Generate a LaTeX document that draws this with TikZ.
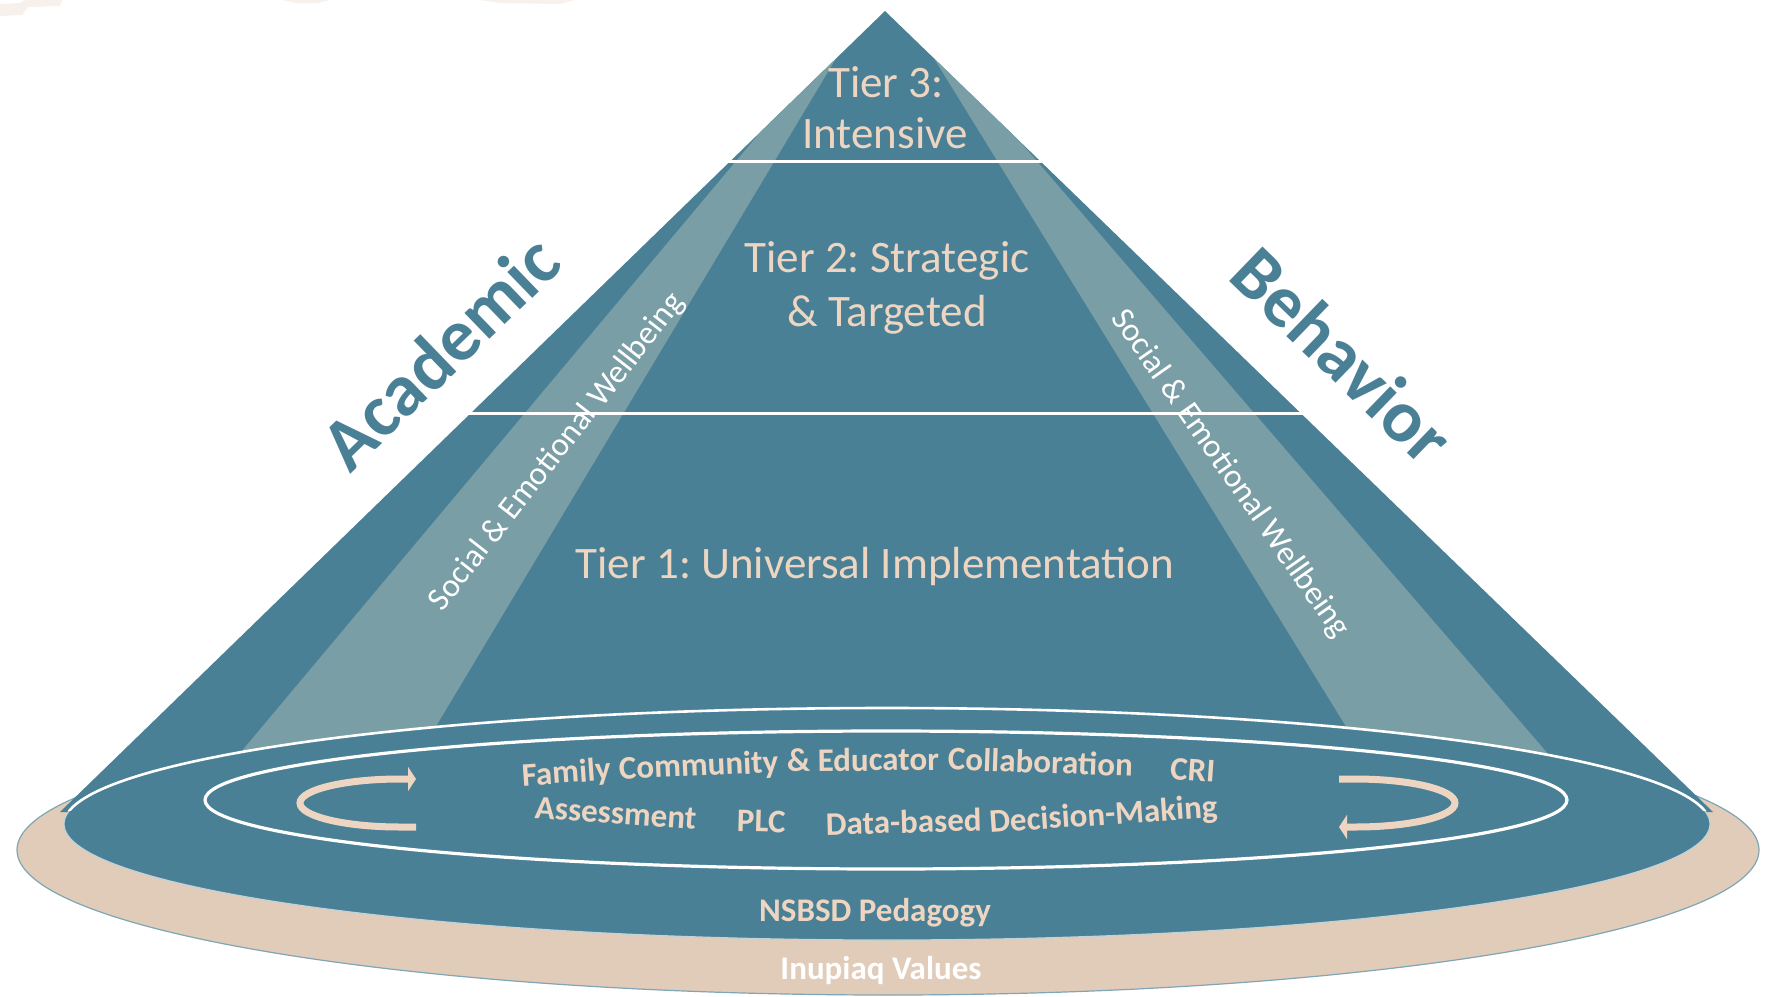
\documentclass[tikz,border=0pt]{standalone}
\usepackage{fontspec}
\setmainfont{Carlito}
\usetikzlibrary{arrows.meta}
\definecolor{coneblue}{HTML}{4A8096}
\definecolor{bandgrey}{HTML}{7A9EA5}
\definecolor{sand}{HTML}{E1CBB9}
\definecolor{sandtext}{HTML}{EDD5C1}
\definecolor{rimline}{HTML}{7FA6B5}
\definecolor{haze}{HTML}{F8F0EB}
\frenchspacing
\begin{document}
\begin{tikzpicture}[x=1pt,y=-1pt,
  tiertext/.style={text=sandtext, inner sep=0pt, anchor=base, font=\fontsize{45}{48}\selectfont},
  sidetext/.style={text=coneblue, inner sep=0pt, font=\bfseries\fontsize{74}{80}\selectfont},
  beltext/.style={text=white, inner sep=0pt, font=\fontsize{33}{36}\selectfont},
  ringtext/.style={text=sandtext, inner sep=0pt, anchor=base, font=\bfseries\fontsize{33}{36}\selectfont},
  basetext/.style={inner sep=0pt, anchor=base, font=\bfseries\fontsize{33}{36}\selectfont},
  cyclearrow/.style={draw=sandtext, line width=7pt, -{Triangle[length=8pt,width=24pt]}},
  divider/.style={draw=white, line width=3pt},
]
\useasboundingbox (0,0) rectangle (1772,996);

% faint marks along the top edge
\fill[haze] (0,4) -- (20,3) -- (24,0) -- (62,0) -- (60,6) -- (28,7) -- (22,15) -- (0,16) -- cycle;
\fill[haze] (283,0) -- (330,0) -- (318,3) -- (295,3) -- cycle;
\fill[haze] (480,0) -- (575,0) -- (560,4) -- (500,3) -- cycle;

% outer sand disc (Inupiaq Values)
\path[fill=sand, draw=rimline, line width=1.2pt] (888,850) ellipse[x radius=871, y radius=145];

% the cone
\coordinate (apex) at (885,11);
\coordinate (baseL) at (60,812);
\coordinate (baseR) at (1713,812);
\fill[coneblue] (apex) -- (baseL) -- (baseR) -- cycle;

% social & emotional wellbeing bands
\begin{scope}
  \clip (apex) -- (baseL) -- (baseR) -- cycle;
  \fill[bandgrey] (871,0) -- (117,900) -- (332,900) -- cycle;
  \fill[bandgrey] (898,0) -- (1453,900) -- (1674,900) -- cycle;
\end{scope}

% tier dividers
\draw[divider] (726,161) -- (1046,161);
\draw[divider] (460,413) -- (1310,413);

% pedagogy disc
\path[fill=coneblue, draw=white!65!coneblue, line width=1.2pt] (887,824) ellipse[x radius=823, y radius=116];
\begin{scope}
  \clip (0,0) rectangle (1772,810);
  \draw[white, line width=2.6pt] (887,824) ellipse[x radius=823, y radius=116];
\end{scope}

% inner ring
\draw[white, line width=3.2pt] (886,800) ellipse[x radius=681, y radius=69];

% cycle arrows
\draw[cyclearrow] (416,827) -- (400,827) .. controls (344.8,827) and (300,816.3) .. (300,803)
  .. controls (300,789.7) and (344.8,779) .. (400,779) -- (416,779);
\draw[cyclearrow] (1339,779) -- (1355,779) .. controls (1410.2,779) and (1455,789.7) .. (1455,803)
  .. controls (1455,816.3) and (1410.2,827) .. (1355,827) -- (1339,827);

% tiers
\node[tiertext] (t3a) at (886,97) {Tier 3:};
\node[tiertext] (t3b) at (885,148) {Intensive};
\node[tiertext] (t2a) at (887,272) {Tier 2: Strategic};
\node[tiertext] (t2b) at (887,326) {\& Targeted};
\node[tiertext] (t1) at (875,578) {Tier 1: Universal Implementation};

% side labels
\node[sidetext, rotate=44] (acad) at (440,352) {Academic};
\node[sidetext, rotate=-44] (behav) at (1343,355) {Behavior};
\node[beltext, rotate=52] (selL) at (557,452) {Social \& Emotional Wellbeing};
\node[beltext, rotate=-55] (selR) at (1230,474) {Social \& Emotional Wellbeing};

% ring labels
\node[ringtext, rotate=4] (fam) at (567,783) {Family};
\node[ringtext, rotate=2.5] (com) at (699,776) {Community};
\node[ringtext, rotate=0.5] (edu) at (863,771) {\& Educator};
\node[ringtext, rotate=-2] (col) at (1040,773) {Collaboration};
\node[ringtext, rotate=-4] (cri) at (1192,781) {CRI};
\node[ringtext, rotate=-4] (ass) at (615,824) {Assessment};
\node[ringtext, rotate=-1.5] (plc) at (761,832) {PLC};
\node[ringtext, rotate=1.5] (dat) at (904,833) {Data-based};
\node[ringtext, rotate=4] (dec) at (1104,825) {Decision-Making};

% base labels
\node[basetext, text=sandtext] (ped) at (875,921) {NSBSD Pedagogy};
\node[basetext, text=white] (val) at (881,979) {Inupiaq Values};
\end{tikzpicture}
\end{document}
